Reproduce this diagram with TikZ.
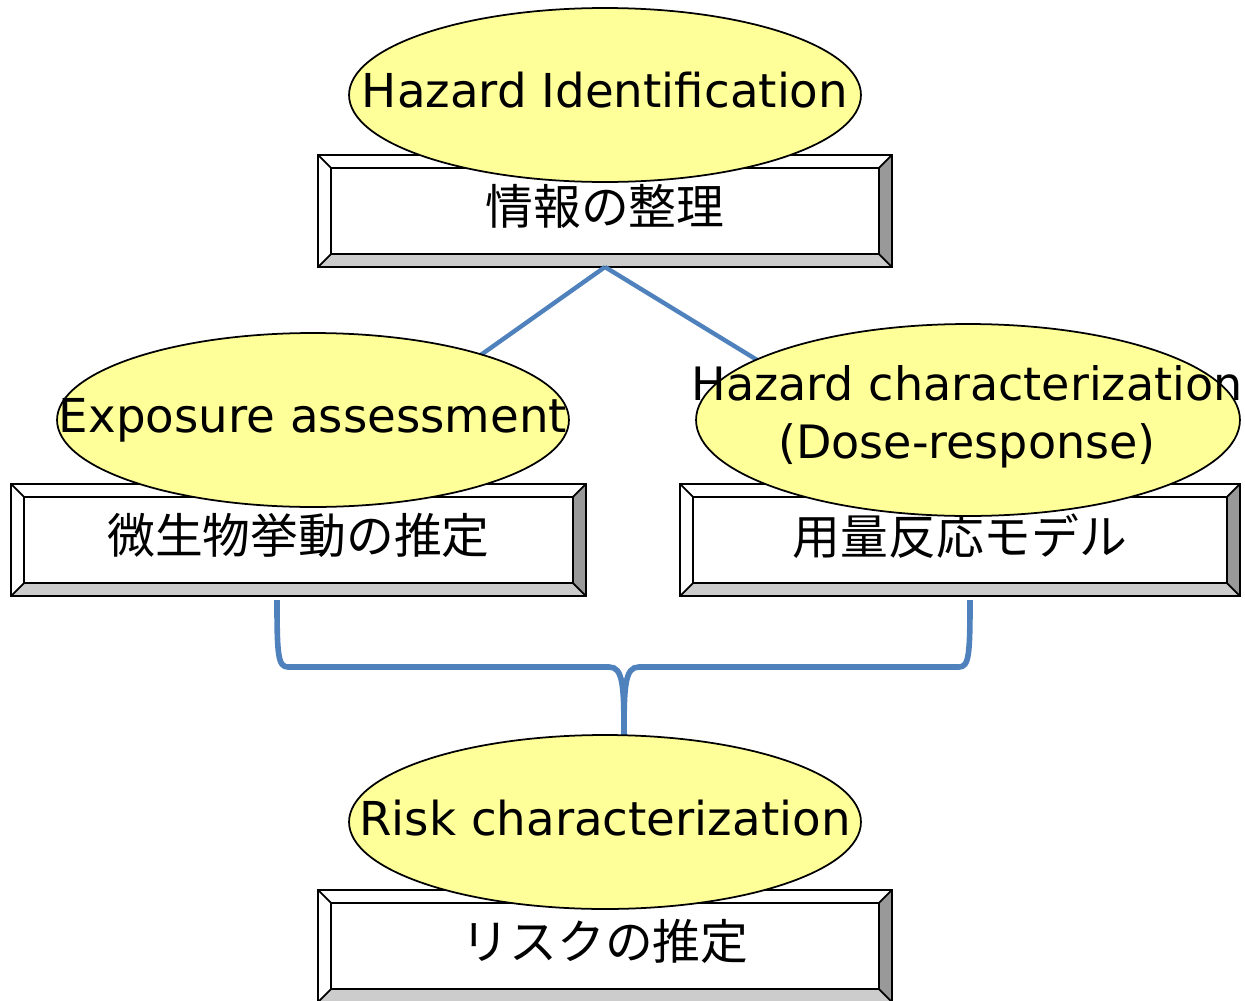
\documentclass[tikz,border=0pt]{standalone}
\usepackage{fontspec}
\setmainfont{DejaVu Sans}
\newfontfamily\jpfont{Noto Sans CJK JP}
\usetikzlibrary{shapes.geometric}
\definecolor{bubblefill}{HTML}{FFFF99}
\definecolor{linkblue}{HTML}{4F81BD}
\definecolor{bevelside}{HTML}{999999}
\definecolor{bevelbot}{HTML}{CCCCCC}
\def\bw{0.26cm}
\tikzset{
  stepbox/.style={fill=white, outer sep=0pt, inner sep=0pt, minimum height=2.24cm, font=\jpfont\fontsize{27.2}{30}\selectfont},
  bubble/.style={ellipse, draw, line width=1pt, fill=bubblefill, inner sep=0pt, minimum width=10.24cm, minimum height=3.48cm},
  bubbletext/.style={font=\fontsize{26.6}{33}\selectfont, align=center, inner sep=0pt},
  link/.style={linkblue, line width=2.5pt},
}
\begin{document}
\begin{tikzpicture}[x=0.02cm, y=-0.02cm]
\useasboundingbox (0,0) rectangle (1245,1001);
\node[stepbox, minimum width=11.48cm] (info) at (605,211) {\raisebox{7pt}{情報の整理}};
\node[stepbox, minimum width=11.5cm] (expo) at (298.5,540) {\raisebox{7pt}{微生物挙動の推定}};
\node[stepbox, minimum width=11.2cm] (dose) at (960,540) {\raisebox{7pt}{用量反応モデル}};
\node[stepbox, minimum width=11.48cm] (risk) at (605,946) {\raisebox{7pt}{リスクの推定}};
\foreach \n in {info,expo,dose,risk}{
  \fill[bevelside] (\n.north east) -- (\n.south east) -- ([shift={(-\bw,\bw)}]\n.south east) -- ([shift={(-\bw,-\bw)}]\n.north east) -- cycle;
  \fill[bevelbot] (\n.south west) -- (\n.south east) -- ([shift={(-\bw,\bw)}]\n.south east) -- ([shift={(\bw,\bw)}]\n.south west) -- cycle;
  \draw[line width=1.2pt] ([shift={(\bw,\bw)}]\n.south west) rectangle ([shift={(-\bw,-\bw)}]\n.north east);
  \draw[line width=1pt] (\n.south west) -- ([shift={(\bw,\bw)}]\n.south west)
    (\n.south east) -- ([shift={(-\bw,\bw)}]\n.south east)
    (\n.north east) -- ([shift={(-\bw,-\bw)}]\n.north east)
    (\n.north west) -- ([shift={(\bw,-\bw)}]\n.north west);
  \draw[line width=1.5pt] (\n.south west) rectangle (\n.north east);
}
\draw[link] (info.south) -- (expo.north);
\draw[link] (info.south) -- (dose.north);
\coordinate (braceL) at (277,600);
\coordinate (braceR) at (970,600);
\coordinate (tip) at (624,735);
\draw[link, line width=3.2pt, line join=round] (braceL) .. controls +(0,55) and +(-10,0) .. (288,667) -- (609,667)
  .. controls +(14,0) and +(0,-50) .. (tip)
  .. controls +(0,-50) and +(-14,0) .. (639,667) -- (959,667)
  .. controls +(10,0) and +(0,55) .. (braceR);
\node[bubble] (hazid) at (605,95) {};
\node[bubble] (expobub) at (313,420) {};
\node[bubble, minimum width=10.88cm, minimum height=3.84cm] (dosebub) at (968,420) {};
\node[bubble] (riskbub) at (605,822) {};
\node[bubbletext] (hazidtxt) at (605,90) {Hazard Identification};
\node[bubbletext] (expotxt) at (313,420) {Exposure assessment};
\node[bubbletext, font=\fontsize{26.2}{33}\selectfont] (dosetxt) at (967,417) {Hazard characterization\\(Dose-response)};
\node[bubbletext] (risktxt) at (605,818) {Risk characterization};
\end{tikzpicture}
\end{document}
